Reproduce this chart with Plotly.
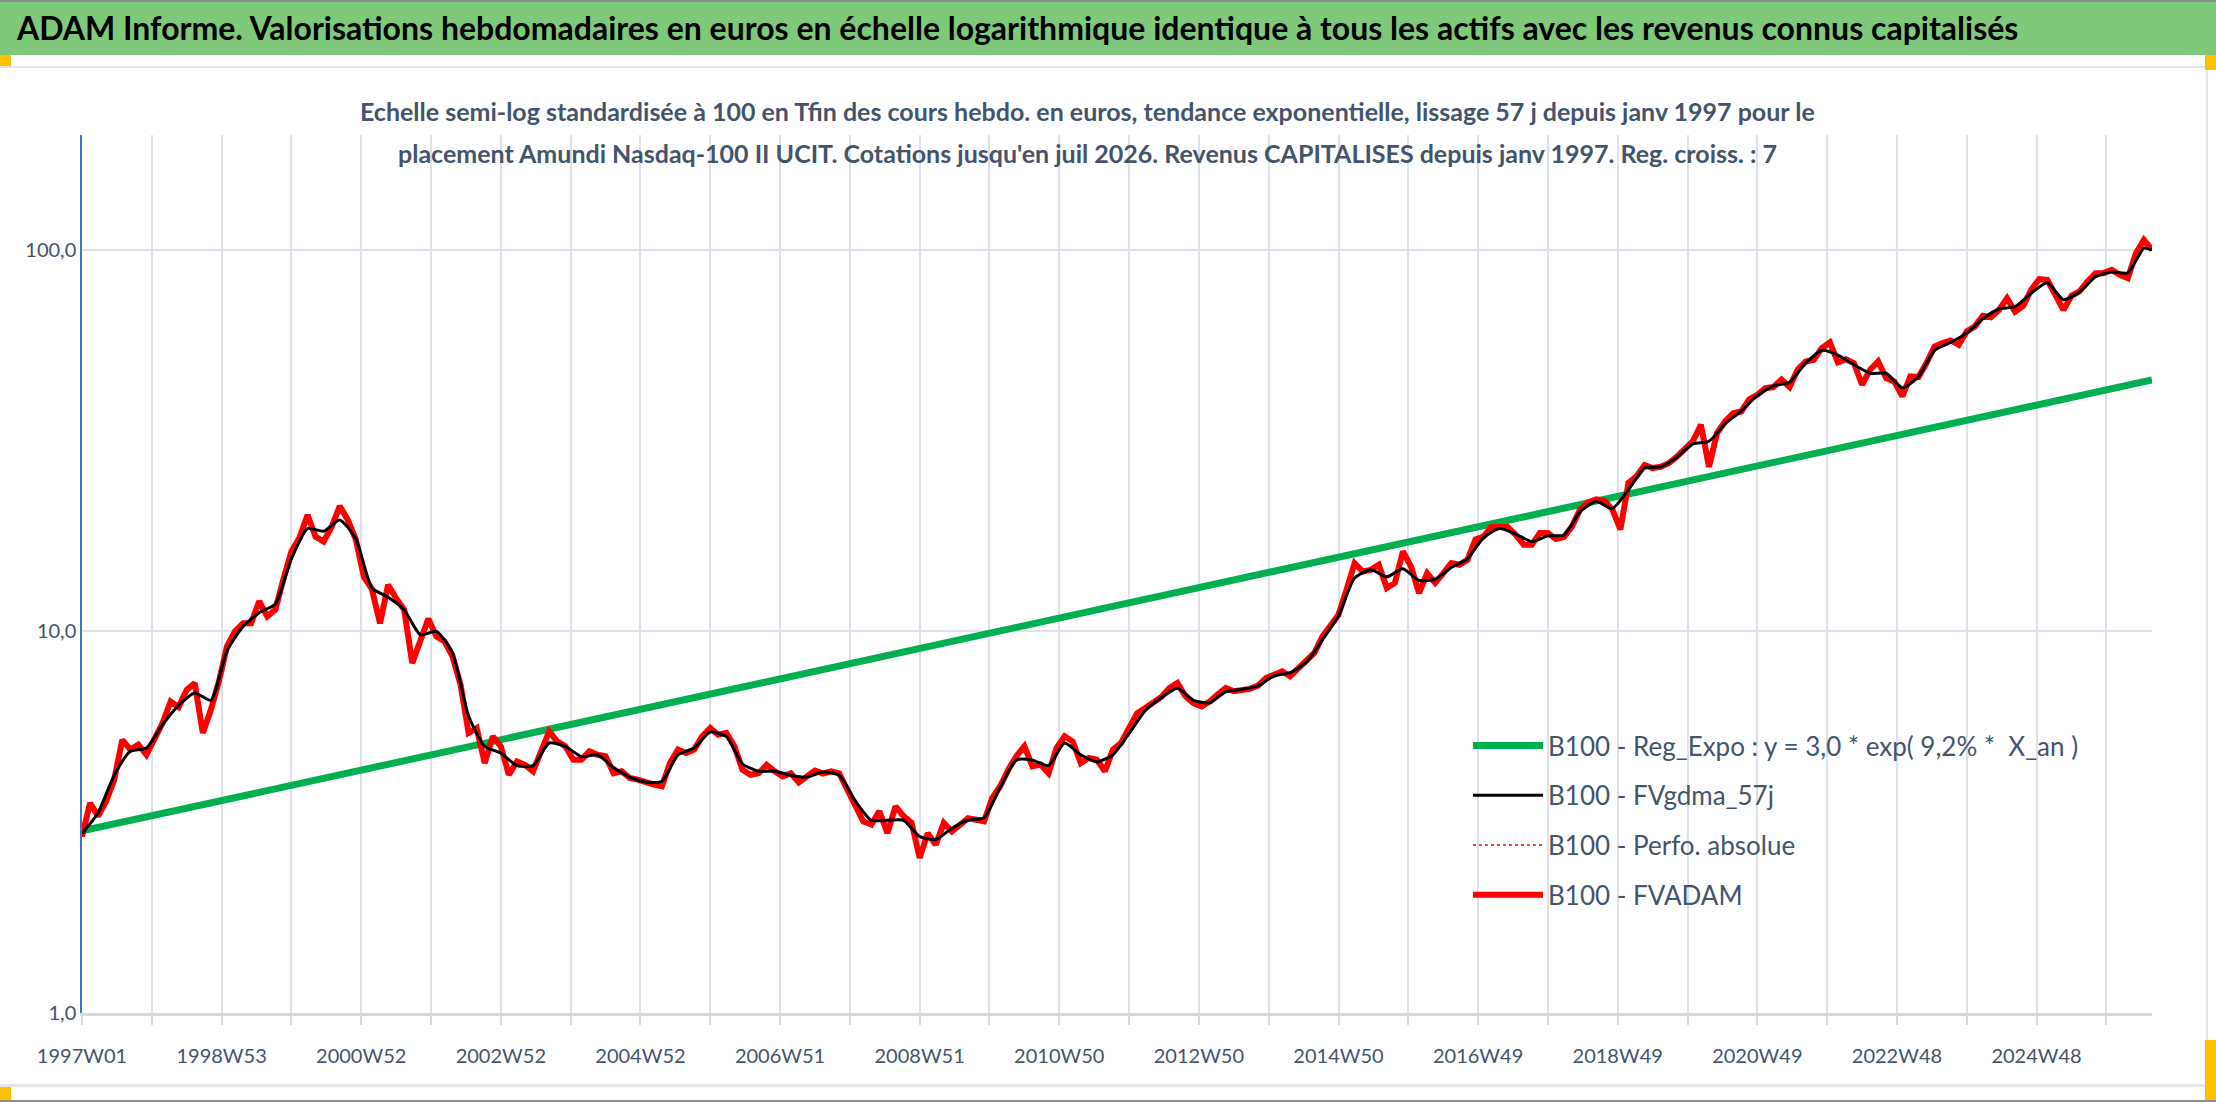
import datetime
import math
import plotly.graph_objects as go


def semaines_iso(debut, fin):
    """liste des semaines ISO 'AAAAWss' entre deux semaines (incluses)"""
    d = datetime.date.fromisocalendar(debut[0], debut[1], 1)
    d_fin = datetime.date.fromisocalendar(fin[0], fin[1], 1)
    out = []
    while d <= d_fin:
        a, s, _ = d.isocalendar()
        out.append(f"{a}W{s:02d}")
        d += datetime.timedelta(weeks=1)
    return out


# ---- donnees ----
semaines = semaines_iso((1997, 1), (2026, 30))

# regression exponentielle : debut et fin
reg_expo = [3.0, 45.6]

# FVADAM, une valeur toutes les 6 semaines
fvadam = [
    2.90, 3.55, 3.28, 3.59, 4.09, 5.20, 4.90, 5.05, 4.75, 5.25,
    5.75, 6.55, 6.34, 7.03, 7.32, 5.42, 6.23, 7.40, 9.14, 10.0,
    10.5, 10.5, 12.0, 10.95, 11.4, 13.7, 16.2, 17.6, 20.2, 17.7,
    17.2, 18.8, 21.3, 19.6, 17.4, 13.9, 12.9, 10.5, 13.25, 12.2,
    11.4, 8.26, 9.51, 10.8, 9.7, 9.42, 8.60, 7.25, 5.42, 5.58,
    4.52, 5.31, 5.00, 4.21, 4.56, 4.47, 4.30, 4.85, 5.47, 5.15,
    5.00, 4.61, 4.61, 4.85, 4.75, 4.71, 4.25, 4.30, 4.13, 4.09,
    4.01, 3.97, 3.93, 4.52, 4.90, 4.80, 4.90, 5.31, 5.58, 5.36,
    5.42, 5.00, 4.34, 4.21, 4.25, 4.47, 4.30, 4.17, 4.25, 4.02,
    4.17, 4.32, 4.24, 4.30, 4.25, 3.85, 3.55, 3.18, 3.12, 3.38,
    2.96, 3.48, 3.28, 3.15, 2.55, 2.96, 2.76, 3.15, 2.99, 3.12,
    3.24, 3.21, 3.18, 3.66, 3.93, 4.34, 4.71, 5.00, 4.43, 4.48,
    4.25, 4.95, 5.31, 5.15, 4.52, 4.66, 4.61, 4.30, 4.90, 5.10,
    5.53, 6.10, 6.30, 6.50, 6.73, 7.11, 7.33, 6.76, 6.49, 6.36,
    6.55, 6.83, 7.11, 6.97, 7.04, 7.07, 7.21, 7.55, 7.70, 7.86,
    7.63, 8.02, 8.43, 8.78, 9.70, 10.4, 11.06, 12.86, 15.1, 14.36,
    14.5, 14.95, 13.0, 13.4, 16.2, 14.8, 12.6, 14.2, 13.4, 14.2,
    15.1, 14.95, 15.4, 17.4, 17.74, 18.77, 18.77, 18.77, 17.92, 16.87,
    16.87, 18.1, 18.1, 17.46, 17.7, 18.85, 20.9, 21.8, 22.2, 22.0,
    20.9, 18.5, 24.5, 25.5, 27.3, 26.8, 27.0, 27.6, 28.7, 30.0,
    31.5, 34.8, 27.0, 33.1, 35.5, 37.3, 37.7, 40.6, 41.7, 43.4,
    43.7, 45.7, 43.7, 48.5, 51.0, 51.5, 55.3, 57.2, 50.7, 51.7,
    50.5, 44.3, 48.5, 51.0, 46.1, 45.2, 41.3, 46.6, 46.4, 50.5,
    55.8, 57.0, 57.9, 56.4, 61.1, 63.0, 67.2, 66.6, 69.6, 74.7,
    68.9, 71.3, 78.6, 83.8, 83.4, 76.2, 69.6, 75.8, 77.8, 82.6,
    86.9, 86.9, 88.6, 86.0, 84.3, 98.0, 106.2, 100.0,
]

# FVgdma_57j, une valeur toutes les 12 semaines + derniere semaine
fvgdma = [
    2.95, 3.35, 4.2, 4.85, 4.95, 5.7, 6.4, 6.9, 6.6, 8.9,
    10.3, 11.2, 11.8, 15.5, 18.6, 18.3, 19.6, 17.5, 13.0, 12.3,
    11.4, 9.8, 10.0, 8.8, 6.0, 5.0, 4.8, 4.45, 4.45, 5.1,
    5.0, 4.7, 4.75, 4.4, 4.15, 4.03, 4.05, 4.75, 4.95, 5.45,
    5.3, 4.5, 4.3, 4.3, 4.2, 4.15, 4.28, 4.2, 3.6, 3.2,
    3.2, 3.2, 2.9, 2.85, 3.05, 3.2, 3.25, 3.9, 4.6, 4.6,
    4.45, 5.1, 4.75, 4.55, 4.75, 5.4, 6.2, 6.7, 7.1, 6.6,
    6.5, 6.95, 7.05, 7.2, 7.65, 7.8, 8.3, 9.5, 11.0, 13.8,
    14.5, 13.9, 14.6, 13.6, 13.7, 14.7, 15.5, 17.6, 18.6, 18.0,
    17.2, 17.8, 17.9, 20.6, 21.9, 21.0, 23.5, 26.8, 27.0, 28.6,
    31.0, 31.5, 35.0, 37.8, 41.5, 44.0, 45.0, 50.5, 54.5, 53.0,
    50.0, 47.5, 47.5, 43.5, 46.5, 54.5, 57.2, 60.5, 66.0, 70.0,
    71.0, 77.0, 82.0, 74.0, 77.5, 85.0, 87.5, 87.0, 101.0, 100.0,
]

ticks_y = [1, 10, 100]
ticks_y_txt = ["1,0", "10,0", "100,0"]

titre = ("ADAM Informe. Valorisations hebdomadaires en euros en échelle logarithmique "
         "identique à tous les actifs avec les revenus connus capitalisés")
sous_titre_1 = ("Echelle semi-log standardisée à 100 en Tfin des cours hebdo. en euros, "
                "tendance exponentielle, lissage 57 j depuis janv 1997 pour le")
sous_titre_2 = ("placement Amundi Nasdaq-100 II UCIT. Cotations jusqu'en juil 2026. "
                "Revenus CAPITALISES depuis janv 1997. Reg. croiss. : 7")

# ---- mise en page (pixels) ----
W, H = 2216, 1102
L, R, T, B = 82, 64, 135, 89
W_PLOT = W - L - R
H_PLOT = H - T - B
POLICE = "Lato, 'Open Sans', sans-serif"
GRIS_TXT = "#44546A"
GRILLE = "#DDE2EA"


def px(x):
    return (x - L) / W_PLOT


def py(y):
    return 1 - (y - T) / H_PLOT


def rect(x0, y0, x1, y1, couleur):
    return dict(type="rect", xref="paper", yref="paper", layer="below",
                x0=px(x0), x1=px(x1), y0=py(y0), y1=py(y1),
                fillcolor=couleur, line_width=0)


x_ticks = semaines[::52]
x_ticks_txt = [s if i % 2 == 0 else "" for i, s in enumerate(x_ticks)]

fig = go.Figure()
fig.add_trace(go.Scatter(x=[semaines[0], semaines[-1]], y=reg_expo, mode="lines",
                         name="B100 - Reg_Expo : y = 3,0 * exp( 9,2% *\u00a0 X_an )",
                         line=dict(color="#00B050", width=7),
                         legendgroup="a", legendrank=1))
fig.add_trace(go.Scatter(x=semaines[::6], y=fvadam, mode="lines",
                         name="B100 - Perfo. absolue",
                         line=dict(color="#FF0000", width=1.5, dash="dot"),
                         legendgroup="c", legendrank=3))
fig.add_trace(go.Scatter(x=semaines[::6], y=fvadam, mode="lines",
                         name="B100 - FVADAM",
                         line=dict(color="#FF0000", width=6),
                         legendgroup="d", legendrank=4))
fig.add_trace(go.Scatter(x=semaines[::12] + [semaines[-1]], y=fvgdma, mode="lines",
                         name="B100 - FVgdma_57j",
                         line=dict(color="#000000", width=3, shape="spline", smoothing=0.6),
                         legendgroup="b", legendrank=2))

shapes = [
    rect(0, 0, W, 2, "#8C8C8C"),
    rect(0, 2, W, 55, "#7FC97A"),
    rect(0, 66, W, 68, "#E3E6EA"),
    rect(2206, 68, 2208, 1085, "#E3E6EA"),
    rect(0, 1084, 2206, 1087, "#E3E6EA"),
    rect(0, 1100, W, H, "#8C8C8C"),
    rect(0, 55, 11, 66, "#FFC000"),
    rect(2205, 55, W, 70, "#FFC000"),
    rect(0, 1087, 11, 1100, "#FFC000"),
    rect(2205, 1040, W, 1100, "#FFC000"),
]

annotations = [
    dict(text=sous_titre_1, x=px(1087), y=py(111), xref="paper", yref="paper",
         xanchor="center", yanchor="middle", showarrow=False,
         font=dict(family=POLICE, size=25, color=GRIS_TXT, weight="bold")),
    dict(text=sous_titre_2, x=px(1087), y=py(153), xref="paper", yref="paper",
         xanchor="center", yanchor="middle", showarrow=False,
         font=dict(family=POLICE, size=25, color=GRIS_TXT, weight="bold")),
]

fig.update_layout(
    width=W, height=H,
    margin=dict(l=L, r=R, t=T, b=B, pad=0),
    paper_bgcolor="white", plot_bgcolor="white",
    title=dict(text=titre, x=17 / W, xanchor="left", y=1 - 29 / H, yanchor="middle",
               xref="container", yref="container",
               font=dict(family=POLICE, size=32, color="black", weight="bold")),
    shapes=shapes,
    annotations=annotations,
    showlegend=True,
    legend=dict(x=px(1468), y=py(722), xanchor="left", yanchor="top",
                bgcolor="rgba(0,0,0,0)", tracegroupgap=13, itemwidth=70,
                font=dict(family=POLICE, size=26, color=GRIS_TXT)),
    hovermode=False,
)

fig.update_xaxes(type="category", categoryorder="array", categoryarray=semaines,
                 range=[0, len(semaines) - 1],
                 tickmode="array", tickvals=x_ticks, ticktext=x_ticks_txt, tickangle=0,
                 showgrid=True, gridcolor=GRILLE, gridwidth=2,
                 ticks="outside", ticklen=9, tickwidth=2, tickcolor="#D9D9D9",
                 showline=True, linecolor="#D9D9D9", linewidth=3,
                 ticklabelstandoff=14,
                 tickfont=dict(family=POLICE, size=20, color=GRIS_TXT))

fig.update_yaxes(type="log", range=[0, math.log10(200)],
                 tickmode="array", tickvals=ticks_y, ticktext=ticks_y_txt,
                 showgrid=True, gridcolor=GRILLE, gridwidth=2, zeroline=False,
                 showline=True, linecolor="#4472C4", linewidth=1.5,
                 tickfont=dict(family=POLICE, size=20, color=GRIS_TXT))

fig.write_html("out.html", config={"displayModeBar": False},
               post_script="document.body.style.margin='0';")
